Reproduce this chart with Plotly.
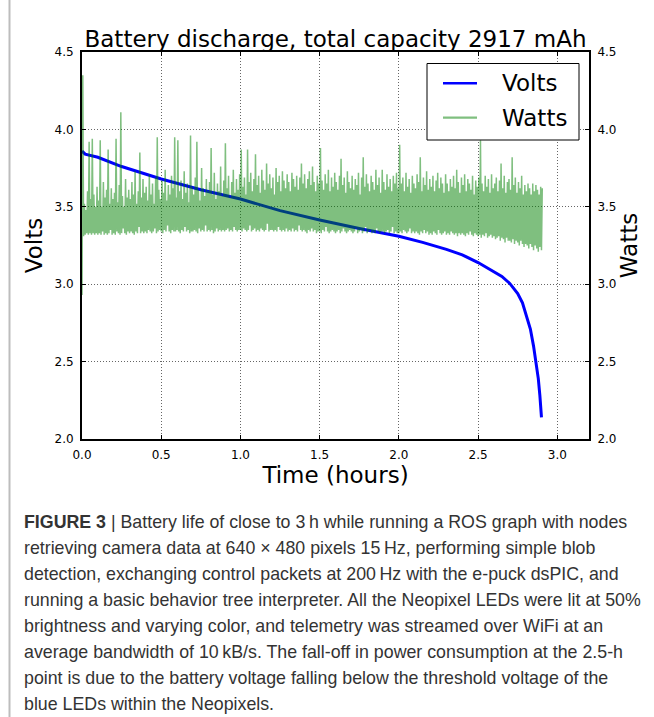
import numpy as np
import plotly.graph_objects as go

# ---------------- data ----------------
title_text = "Battery discharge, total capacity 2917 mAh"
series_names = ["Volts", "Watts"]

# Battery voltage (hours, volts)
volts_t = [0.00, 0.02, 0.10, 0.25, 0.50, 0.75, 1.00, 1.25, 1.50, 1.75, 2.00, 2.15,
           2.30, 2.40, 2.50, 2.55, 2.60, 2.65, 2.70, 2.75, 2.78, 2.80, 2.83, 2.85,
           2.87, 2.88, 2.89, 2.90]
volts_v = [3.86, 3.84, 3.82, 3.76, 3.68, 3.61, 3.55, 3.475, 3.415, 3.36, 3.31, 3.27,
           3.225, 3.19, 3.14, 3.11, 3.08, 3.05, 3.005, 2.94, 2.88, 2.81, 2.71, 2.60,
           2.47, 2.39, 2.28, 2.14]

# Power draw, sampled every 0.01 h: trough and peak reading within each sample slot
watts_dt_hours = 0.01
watts_low = [
    2.93, 3.31, 3.32, 3.33, 3.32, 3.33, 3.32, 3.33, 3.32, 3.33,
    3.32, 3.33, 3.32, 3.34, 3.32, 3.33, 3.32, 3.33, 3.35, 3.32,
    3.33, 3.32, 3.34, 3.33, 3.32, 3.33, 3.36, 3.33, 3.32, 3.34,
    3.33, 3.34, 3.33, 3.32, 3.34, 3.33, 3.37, 3.33, 3.34, 3.33,
    3.34, 3.33, 3.35, 3.34, 3.33, 3.34, 3.36, 3.33, 3.34, 3.35,
    3.34, 3.33, 3.35, 3.34, 3.38, 3.34, 3.33, 3.35, 3.34, 3.34,
    3.35, 3.34, 3.33, 3.35, 3.34, 3.37, 3.34, 3.35, 3.33, 3.34,
    3.34, 3.35, 3.34, 3.33, 3.36, 3.34, 3.35, 3.34, 3.38, 3.34,
    3.35, 3.34, 3.35, 3.33, 3.34, 3.36, 3.34, 3.35, 3.34, 3.35,
    3.34, 3.35, 3.36, 3.34, 3.35, 3.34, 3.37, 3.35, 3.34, 3.35,
    3.35, 3.34, 3.36, 3.35, 3.34, 3.35, 3.38, 3.34, 3.35, 3.36,
    3.34, 3.35, 3.34, 3.36, 3.35, 3.34, 3.35, 3.39, 3.34, 3.35,
    3.35, 3.34, 3.35, 3.34, 3.37, 3.35, 3.34, 3.35, 3.34, 3.36,
    3.34, 3.35, 3.34, 3.36, 3.34, 3.35, 3.34, 3.38, 3.35, 3.34,
    3.35, 3.34, 3.33, 3.35, 3.34, 3.36, 3.34, 3.35, 3.33, 3.34,
    3.34, 3.33, 3.35, 3.34, 3.37, 3.34, 3.33, 3.34, 3.35, 3.34,
    3.33, 3.34, 3.35, 3.33, 3.34, 3.36, 3.34, 3.33, 3.34, 3.35,
    3.34, 3.33, 3.34, 3.36, 3.33, 3.34, 3.35, 3.33, 3.34, 3.37,
    3.33, 3.34, 3.35, 3.33, 3.34, 3.33, 3.36, 3.34, 3.33, 3.34,
    3.34, 3.33, 3.34, 3.35, 3.33, 3.34, 3.37, 3.33, 3.34, 3.33,
    3.33, 3.34, 3.33, 3.35, 3.34, 3.33, 3.34, 3.36, 3.33, 3.34,
    3.33, 3.34, 3.33, 3.32, 3.34, 3.33, 3.35, 3.33, 3.34, 3.32,
    3.33, 3.32, 3.34, 3.33, 3.32, 3.35, 3.33, 3.32, 3.33, 3.34,
    3.32, 3.33, 3.32, 3.34, 3.33, 3.32, 3.33, 3.31, 3.33, 3.32,
    3.33, 3.32, 3.31, 3.33, 3.32, 3.34, 3.32, 3.31, 3.33, 3.32,
    3.31, 3.32, 3.30, 3.32, 3.31, 3.33, 3.30, 3.31, 3.32, 3.30,
    3.31, 3.29, 3.30, 3.31, 3.28, 3.30, 3.29, 3.27, 3.30, 3.28,
    3.28, 3.27, 3.29, 3.26, 3.28, 3.27, 3.25, 3.28, 3.26, 3.24,
    3.26, 3.25, 3.23, 3.26, 3.24, 3.22, 3.25, 3.23, 3.21, 3.24,
    3.22,
]
watts_high = [
    4.35, 3.52, 3.48, 3.60, 3.92, 3.55, 3.94, 3.58, 3.50, 3.63,
    3.54, 3.93, 3.50, 3.66, 3.56, 3.61, 3.87, 3.52, 3.62, 3.55,
    3.59, 3.94, 3.53, 3.64, 4.11, 3.57, 3.50, 3.68, 3.56, 3.61,
    3.55, 3.66, 3.58, 3.73, 3.52, 3.60, 3.85, 3.56, 3.68, 3.59,
    3.63, 3.54, 3.71, 3.58, 3.65, 3.52, 3.69, 3.95, 3.61, 3.55,
    3.67, 3.59, 3.74, 3.54, 3.64, 3.58, 3.70, 3.62, 3.95, 3.56,
    3.93, 3.60, 3.67, 3.55, 3.73, 3.59, 3.65, 3.53, 3.96, 3.63,
    3.58, 3.69, 3.92, 3.61, 3.54, 3.75, 3.62, 3.57, 3.68, 3.60,
    3.66, 3.88, 3.58, 3.72, 3.55, 3.65, 3.60, 3.76, 3.57, 3.67,
    3.91, 3.62, 3.70, 3.56, 3.66, 3.74, 3.59, 3.68, 3.61, 3.71,
    3.87, 3.63, 3.69, 3.58, 3.87, 3.66, 3.72, 3.60, 3.68, 3.84,
    3.64, 3.70, 3.59, 3.74, 3.67, 3.61, 3.78, 3.65, 3.71, 3.62,
    3.69, 3.58, 3.75, 3.66, 3.70, 3.60, 3.73, 3.67, 3.62, 3.71,
    3.66, 3.60, 3.72, 3.68, 3.63, 3.70, 3.61, 3.69, 3.78, 3.65,
    3.71, 3.62, 3.68, 3.73, 3.64, 3.76, 3.66, 3.60, 3.70, 3.65,
    3.88, 3.67, 3.61, 3.71, 3.65, 3.74, 3.60, 3.69, 3.63, 3.72,
    3.66, 3.61, 3.70, 3.81, 3.64, 3.69, 3.59, 3.73, 3.66, 3.62,
    3.70, 3.61, 3.68, 3.64, 3.72, 3.58, 3.69, 3.82, 3.63, 3.71,
    3.65, 3.60, 3.70, 3.66, 3.61, 3.74, 3.64, 3.69, 3.59, 3.74,
    3.66, 3.61, 3.71, 3.63, 3.68, 3.60, 3.70, 3.65, 3.72, 3.62,
    3.90, 3.65, 3.69, 3.60, 3.72, 3.63, 3.68, 3.59, 3.70, 3.65,
    3.62, 3.71, 3.66, 3.82, 3.60, 3.69, 3.64, 3.73, 3.61, 3.68,
    3.63, 3.70, 3.60, 3.67, 3.72, 3.62, 3.69, 3.65, 3.59, 3.71,
    3.65, 3.60, 3.68, 3.63, 3.70, 3.62, 3.74, 3.66, 3.59, 3.69,
    3.64, 3.71, 3.60, 3.68, 3.65, 3.61, 3.70, 3.58, 3.67, 3.63,
    3.69, 3.93, 3.65, 3.60, 3.70, 3.63, 3.68, 3.59, 3.71, 3.62,
    3.65, 3.69, 3.60, 3.67, 3.78, 3.62, 3.70, 3.59, 3.66, 3.68,
    3.61, 3.82, 3.64, 3.69, 3.59, 3.66, 3.62, 3.70, 3.58, 3.64,
    3.60, 3.65, 3.62, 3.58, 3.65, 3.60, 3.64, 3.61, 3.58, 3.63,
    3.62,
]

x_ticks = [0.0, 0.5, 1.0, 1.5, 2.0, 2.5, 3.0]
y_ticks = [2.0, 2.5, 3.0, 3.5, 4.0, 4.5]

caption_lines = [
    "<b>FIGURE 3</b> | Battery life of close to 3\u2009h while running a ROS graph with nodes",
    "retrieving camera data at 640 \u00d7 480 pixels 15\u2009Hz, performing simple blob",
    "detection, exchanging control packets at 200\u2009Hz with the e-puck dsPIC, and",
    "running a basic behavior tree interpreter. All the Neopixel LEDs were lit at 50%",
    "brightness and varying color, and telemetry was streamed over WiFi at an",
    "average bandwidth of 10\u2009kB/s. The fall-off in power consumption at the 2.5-h",
    "point is due to the battery voltage falling below the threshold voltage of the",
    "blue LEDs within the Neopixels.",
]

# ---------------- layout geometry ----------------
W, H = 654, 717
M_L, M_R, M_T, M_B = 82, 65, 52, 278
PW = W - M_L - M_R
PH = H - M_T - M_B
PLOT_BOTTOM = H - M_B


def px_x(px):
    return (px - M_L) / PW


def px_y(py):
    return (PLOT_BOTTOM - py) / PH


BLUE = "#0000ff"
GREEN = "rgba(0,128,0,0.5)"
FONT = "DejaVu Sans"

# interleave trough/peak readings in time order
k = np.arange(len(watts_low))
t_low = k * watts_dt_hours
t_high = k * watts_dt_hours + watts_dt_hours / 2
watts_t = np.column_stack([t_low, t_high]).ravel()
watts_v = np.column_stack([watts_low, watts_high]).ravel()

fig = go.Figure()
fig.add_trace(go.Scatter(
    x=volts_t, y=volts_v, mode="lines", name=series_names[0],
    line=dict(color=BLUE, width=3), yaxis="y", showlegend=False,
))
fig.add_trace(go.Scatter(
    x=watts_t, y=watts_v, mode="lines", name=series_names[1],
    line=dict(color=GREEN, width=1.5, simplify=False), yaxis="y2",
    showlegend=False,
))

axis_common = dict(
    showgrid=True, gridcolor="rgba(0,0,0,0.6)", gridwidth=1, griddash="1px,2px",
    zeroline=False, showline=True, linecolor="black", linewidth=2,
    ticks="inside", ticklen=4, tickwidth=1, tickcolor="black",
    tickfont=dict(family=FONT, size=12, color="black"),
    tickformat=".1f", ticklabelstandoff=4,
)

fig.update_layout(
    width=W, height=H,
    margin=dict(l=M_L, r=M_R, t=M_T, b=M_B),
    paper_bgcolor="white", plot_bgcolor="white",
    font=dict(family=FONT, color="black"),
    title=dict(text=title_text, x=0.5, xref="paper", xanchor="center",
               y=1, yref="paper", yanchor="bottom", pad=dict(b=5),
               font=dict(family=FONT, size=23, color="black")),
    xaxis=dict(range=[0, 3.2], tickvals=x_ticks, mirror="ticks",
               title=dict(text="Time (hours)", standoff=1,
                          font=dict(family=FONT, size=23)),
               **axis_common),
    yaxis=dict(range=[2.0, 4.5], tickvals=y_ticks,
               title=dict(text="Volts", standoff=5,
                          font=dict(family=FONT, size=23)),
               **axis_common),
    yaxis2=dict(range=[2.0, 4.5], tickvals=y_ticks, overlaying="y", side="right",
                title=dict(text="Watts", standoff=5,
                           font=dict(family=FONT, size=23)),
                **{**axis_common, "showgrid": False}),
    showlegend=False,
)

# legend box (drawn above the traces, opaque like the original)
fig.add_shape(type="rect", xref="paper", yref="paper", layer="above",
              x0=px_x(427), x1=px_x(579), y0=px_y(140), y1=px_y(63.5),
              fillcolor="white", line=dict(color="black", width=1))
legend_rows = [(series_names[0], BLUE, 2.6, 83.3), (series_names[1], GREEN, 2.2, 117.7)]
for name, color, lw, ypx in legend_rows:
    fig.add_shape(type="line", xref="paper", yref="paper", layer="above",
                  x0=px_x(443), x1=px_x(477), y0=px_y(ypx), y1=px_y(ypx),
                  line=dict(color=color, width=lw))
    fig.add_annotation(text=name, xref="paper", yref="paper",
                       x=px_x(500), y=px_y(ypx), xanchor="left", yanchor="middle",
                       showarrow=False, font=dict(family=FONT, size=23, color="black"))

# thin grey page rule at the left edge of the figure panel
fig.add_shape(type="line", xref="paper", yref="paper",
              x0=px_x(9.5), x1=px_x(9.5), y0=px_y(0), y1=px_y(H),
              line=dict(color="#bdbdbd", width=2))

# caption below the chart
for i, line in enumerate(caption_lines):
    baseline = 528.3 + 26 * i
    fig.add_annotation(
        text=line, xref="paper", yref="paper",
        x=px_x(21.5), y=px_y(baseline - 6), xanchor="left", yanchor="middle",
        showarrow=False, align="left",
        font=dict(family="Liberation Sans", size=17.8, color="#333333"),
    )

fig.write_html("out.html")
